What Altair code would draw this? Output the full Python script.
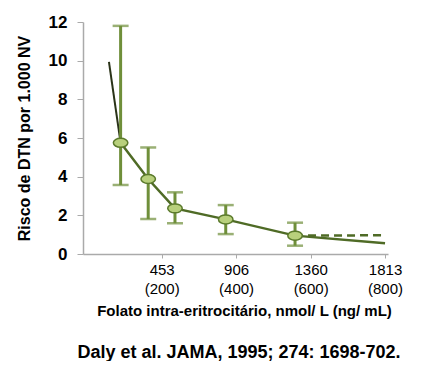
import altair as alt
import pandas as pd

# Data
pt_x = [203, 371, 534, 843, 1265]
pt_y = [5.75, 3.88, 2.36, 1.79, 0.95]
err_lo = [3.57, 1.81, 1.59, 1.03, 0.43]
err_hi = [11.8, 5.51, 3.19, 2.53, 1.62]
lead_x = [132, 203]
lead_y = [9.94, 5.75]
tail_x = [1813]
tail_y = [0.55]
dash_x = [1265, 1813]
dash_y = [0.95, 0.97]
y_ticks = [0, 2, 4, 6, 8, 10, 12]
x_ticks = [453, 906, 1360, 1813]
x_ticks_ngml = [200, 400, 600, 800]

y_title = "Risco de DTN por 1.000 NV"
x_title = "Folato intra-eritrocitário, nmol/ L (ng/ mL)"
citation = "Daly et al. JAMA, 1995; 274: 1698-702."

FONT = "Liberation Sans"
LINE = "#4f6b26"
ERR = "#6f8f3a"

pts = pd.DataFrame({"x": pt_x, "y": pt_y, "lo": err_lo, "hi": err_hi})
curve = pd.DataFrame({"x": pt_x + tail_x, "y": pt_y + tail_y})
lead = pd.DataFrame({"x": lead_x, "y": lead_y})
dash = pd.DataFrame({"x": dash_x, "y": dash_y})

label_expr = ""
for v, n in zip(x_ticks, x_ticks_ngml):
    label_expr += f"datum.value == {v} ? ['{v}', '({n})'] : "
label_expr += "''"

xscale = alt.Scale(domain=[-26, 1831], nice=False, zero=False)
yscale = alt.Scale(domain=[0, 12], nice=False)

xaxis = alt.Axis(values=x_ticks, labelExpr=label_expr, title=x_title,
                 grid=False, domainColor="#aaaaaa", domainWidth=1.5,
                 tickColor="#aaaaaa", tickSize=4, labelFont=FONT,
                 labelFontSize=15, labelColor="#000000", labelLineHeight=19,
                 labelPadding=4, titleFont=FONT, titleFontSize=15,
                 titleFontWeight="bold", titleColor="#000000", titlePadding=7,
                 titleX=161)
yaxis = alt.Axis(values=y_ticks, title=y_title, grid=False,
                 domainColor="#aaaaaa", domainWidth=1.5, tickColor="#aaaaaa",
                 tickSize=6, labelFont=FONT, labelFontSize=17,
                 labelFontWeight="bold", labelColor="#000000", labelPadding=10,
                 titleFont=FONT, titleFontSize=16, titleFontWeight="bold",
                 titleColor="#000000", titlePadding=16)

X = alt.X("x:Q", scale=xscale, axis=xaxis)
Y = alt.Y("y:Q", scale=yscale, axis=yaxis)

lead_line = alt.Chart(lead).mark_line(color="#2a3318", strokeWidth=2).encode(x=X, y=Y)
main_line = alt.Chart(curve).mark_line(color=LINE, strokeWidth=2.5).encode(x=X, y=Y)
dash_line = alt.Chart(dash).mark_line(color=LINE, strokeWidth=2.5, strokeDash=[8, 5]).encode(x=X, y=Y)

err_rule = alt.Chart(pts).mark_rule(color=ERR, strokeWidth=3).encode(
    x=X, y=alt.Y("lo:Q", scale=yscale, axis=yaxis), y2="hi:Q")
cap_lo = alt.Chart(pts).mark_tick(color=ERR, orient="horizontal", size=16, thickness=2.5).encode(
    x=X, y=alt.Y("lo:Q", scale=yscale, axis=yaxis))
cap_hi = alt.Chart(pts).mark_tick(color=ERR, orient="horizontal", size=16, thickness=2.5).encode(
    x=X, y=alt.Y("hi:Q", scale=yscale, axis=yaxis))

ellipse = "M -1 0 A 1 0.62 0 1 0 1 0 A 1 0.62 0 1 0 -1 0 Z"
points = alt.Chart(pts).mark_point(shape=ellipse, size=210, filled=True,
                                   fill="#b8d07c", stroke="#5b7a2c",
                                   strokeWidth=1.5, opacity=1).encode(x=X, y=Y)

cite = alt.Chart(pd.DataFrame({"t": [citation]})).mark_text(
    font=FONT, fontSize=18, fontWeight="bold", color="#000000",
    align="center", baseline="middle").encode(
    x=alt.value(156), y=alt.value(331), text="t:N")

chart = alt.layer(lead_line, main_line, dash_line, err_rule, cap_lo, cap_hi,
                  points, cite).properties(
    width=305, height=232,
    autosize=alt.AutoSizeParams(type="none"),
    padding={"left": 75, "top": 14, "right": 37, "bottom": 107},
).configure_view(stroke=None)

chart.save("out.html", embed_options={"renderer": "svg", "actions": False})
